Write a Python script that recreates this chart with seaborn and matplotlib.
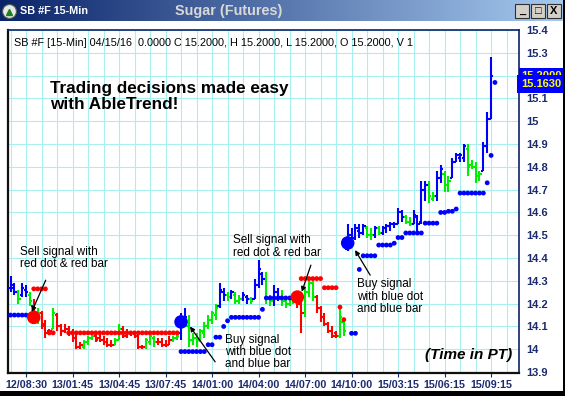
import numpy as np
import pandas as pd
import matplotlib
matplotlib.use("Agg")
import matplotlib.pyplot as plt
import matplotlib.transforms as mtransforms
from matplotlib.colors import LinearSegmentedColormap
from matplotlib.patches import Rectangle
import seaborn as sns

# ---------------- data ----------------
bar_open = [14.27,14.27,14.25,14.24,14.26,14.24,14.19,14.13,14.16,14.11,
            14.08,14.09,14.15,14.10,14.08,14.09,14.07,14.05,14.01,14.01,
            14.03,14.05,14.06,14.05,14.04,14.03,14.02,14.02,14.04,14.09,
            14.06,14.07,14.07,14.06,14.01,14.01,14.03,14.05,14.03,14.03,
            14.02,14.02,14.04,14.05,14.07,14.12,14.10,14.04,14.05,14.04,
            14.07,14.10,14.13,14.15,14.19,14.25,14.24,14.23,14.24,14.21,
            14.22,14.23,14.22,14.22,14.28,14.33,14.31,14.22,14.21,14.25,
            14.23,14.21,14.20,14.22,14.22,14.20,14.16,14.25,14.29,14.23,
            14.18,14.14,14.11,14.08,14.07,14.06,14.12,14.44,14.50,14.49,
            14.52,14.51,14.53,14.50,14.50,14.53,14.51,14.53,14.54,14.55,
            14.55,14.60,14.58,14.56,14.55,14.58,14.56,14.70,14.72,14.66,
            14.67,14.75,14.77,14.72,14.75,14.82,14.84,14.84,14.88,14.81,
            14.80,14.76,14.78,14.89,15.01]
bar_high = [14.32,14.29,14.26,14.29,14.28,14.25,14.22,14.18,14.17,14.13,
            14.09,14.18,14.16,14.11,14.11,14.10,14.09,14.07,14.03,14.04,
            14.06,14.08,14.07,14.07,14.06,14.05,14.04,14.05,14.11,14.10,
            14.09,14.08,14.08,14.07,14.02,14.05,14.07,14.06,14.05,14.05,
            14.04,14.06,14.06,14.07,14.16,14.18,14.15,14.07,14.07,14.09,
            14.12,14.15,14.17,14.20,14.29,14.27,14.25,14.26,14.25,14.24,
            14.25,14.24,14.23,14.31,14.39,14.34,14.34,14.24,14.28,14.27,
            14.26,14.22,14.23,14.24,14.24,14.21,14.27,14.31,14.31,14.24,
            14.19,14.16,14.12,14.10,14.08,14.18,14.13,14.55,14.53,14.55,
            14.55,14.55,14.54,14.53,14.54,14.54,14.54,14.55,14.56,14.56,
            14.62,14.61,14.59,14.58,14.61,14.59,14.74,14.74,14.74,14.69,
            14.78,14.81,14.78,14.76,14.84,14.86,14.86,14.90,14.90,14.83,
            14.82,14.78,14.91,15.04,15.28]
bar_low = [14.25,14.24,14.20,14.23,14.23,14.19,14.11,14.11,14.09,14.05,
           14.07,14.09,14.08,14.06,14.07,14.06,14.03,14.00,14.00,14.00,
           14.02,14.04,14.03,14.03,14.02,14.01,14.01,14.02,14.04,14.05,
           14.05,14.06,14.05,14.00,14.00,14.00,14.02,14.01,14.02,14.01,
           14.01,14.02,14.03,14.04,14.04,14.10,14.01,14.02,14.01,14.03,
           14.05,14.09,14.11,14.13,14.18,14.21,14.21,14.22,14.20,14.20,
           14.21,14.20,14.20,14.22,14.27,14.28,14.20,14.19,14.19,14.21,
           14.19,14.18,14.19,14.20,14.18,14.07,14.14,14.23,14.21,14.16,
           14.12,14.10,14.07,14.05,14.05,14.05,14.06,14.43,14.47,14.48,
           14.49,14.50,14.49,14.48,14.49,14.50,14.50,14.51,14.52,14.53,
           14.55,14.56,14.55,14.54,14.55,14.52,14.55,14.65,14.64,14.65,
           14.65,14.73,14.69,14.69,14.75,14.82,14.82,14.82,14.76,14.79,
           14.73,14.74,14.78,14.86,15.01]
bar_close = [14.28,14.25,14.22,14.27,14.25,14.21,14.14,14.16,14.10,14.07,
             14.08,14.16,14.10,14.08,14.09,14.07,14.05,14.01,14.02,14.03,
             14.05,14.06,14.04,14.04,14.03,14.02,14.02,14.04,14.09,14.06,
             14.07,14.07,14.06,14.01,14.01,14.04,14.06,14.03,14.03,14.02,
             14.02,14.04,14.05,14.06,14.12,14.14,14.04,14.05,14.04,14.08,
             14.10,14.13,14.16,14.18,14.26,14.24,14.23,14.25,14.21,14.22,
             14.24,14.22,14.21,14.28,14.35,14.31,14.22,14.21,14.25,14.23,
             14.21,14.20,14.22,14.23,14.20,14.16,14.25,14.29,14.23,14.18,
             14.14,14.11,14.08,14.06,14.06,14.14,14.08,14.50,14.49,14.53,
             14.51,14.54,14.50,14.50,14.53,14.51,14.53,14.54,14.55,14.55,
             14.60,14.58,14.56,14.55,14.59,14.55,14.70,14.72,14.67,14.67,
             14.75,14.79,14.72,14.74,14.82,14.85,14.85,14.89,14.80,14.80,
             14.76,14.77,14.89,15.01,15.20]
bar_color = list("bbgbbgrgrr" "rgrrrrrrrg" "ggrrrrrggr" "rrrrrgggrr"
                 "rrggbbgggg" "ggggbbgbgg" "bbgbbbggbb" "ggggrrgggr"
                 "rrrrrggbbb" "bbggbgbbbb" "bbggbbbbgg" "bbggbbbbgg" "ggbbb")

# trailing stop dots (runs of bars at one level)
stop_start = [1, 7, 11, 16, 45, 52, 54, 56, 57, 58, 66, 67, 76, 82, 86, 87, 89, 91, 92,
              96, 100, 101, 103, 108, 112, 114, 116, 117, 124, 125, 126]
stop_end = [6, 10, 12, 44, 51, 53, 55, 56, 57, 65, 66, 74, 81, 85, 86, 87, 90, 91, 95,
            99, 100, 102, 107, 111, 113, 115, 116, 123, 124, 125, 126]
stop_level = [14.15, 14.265, 14.072, 14.072, 13.99, 14.02, 14.053, 14.10, 14.125, 14.14,
              14.175, 14.225, 14.31, 14.27, 14.185, 14.13, 14.07, 14.35, 14.41, 14.457,
              14.465, 14.49, 14.51, 14.553, 14.60, 14.605, 14.615, 14.685, 14.73, 14.85, 15.17]
stop_color = ['b', 'r', 'r', 'r', 'b', 'b', 'b', 'b', 'b', 'b', 'b', 'b', 'r', 'r', 'r', 'r',
              'b', 'b', 'b', 'b', 'b', 'b', 'b', 'b', 'b', 'b', 'b', 'b', 'b', 'b', 'b']

# big signal dots
signal_bar = [7, 45, 75, 88]
signal_price = [14.14, 14.12, 14.229, 14.466]
signal_color = ['r', 'b', 'r', 'b']

tick_bars = [5, 17, 29, 41, 53, 65, 77, 89, 101, 113, 125]
tick_labels = ['12/08:30', '13/01:45', '13/04:45', '13/07:45', '14/01:00', '14/04:00',
               '14/07:00', '14/10:00', '15/03:15', '15/06:15', '15/09:15']
y_ticks = [13.9, 14.0, 14.1, 14.2, 14.3, 14.4, 14.5, 14.6, 14.7, 14.8, 14.9, 15.0,
           15.1, 15.2, 15.3, 15.4]
y_labels = ['13.9', '14', '14.1', '14.2', '14.3', '14.4', '14.5', '14.6', '14.7', '14.8',
            '14.9', '15', '15.1', '15.2', '15.3', '15.4']
last_prices = [15.2000, 15.1630]

header = "SB #F [15-Min] 04/15/16  0.0000 C 15.2000, H 15.2000, L 15.2000, O 15.2000, V 1"

# ---------------- style ----------------
sns.set_theme(style="white")
plt.rcParams['font.family'] = ['Liberation Sans', 'DejaVu Sans']

BLUE, GREEN, RED = '#0000ff', '#00ee00', '#ff0000'
cmap_code = {'b': BLUE, 'g': GREEN, 'r': RED}
NAVY = '#1c2a6e'
GRID = '#a8f0f0'

W, H = 565, 396
fig = plt.figure(figsize=(W / 100, H / 100), dpi=100)
fig.patch.set_facecolor('white')

def fx(p):
    return p / W

def fy(p):
    return 1 - p / H

ax = fig.add_axes([fx(8), fy(373), (519 - 8) / W, (373 - 30) / H])
ax.set_facecolor('white')

# bars
bars = pd.DataFrame({'bar': np.arange(1, len(bar_close) + 1), 'open': bar_open,
                     'high': bar_high, 'low': bar_low, 'close': bar_close,
                     'code': bar_color})
cols = [cmap_code[c] for c in bars['code']]
ax.vlines(bars['bar'], bars['low'], bars['high'], colors=cols, lw=1.5, zorder=3)
ax.hlines(bars['open'], bars['bar'] - 0.6, bars['bar'], colors=cols, lw=1.5, zorder=3)
ax.hlines(bars['close'], bars['bar'], bars['bar'] + 0.6, colors=cols, lw=1.5, zorder=3)

# stop dots
rows = []
for s, e, v, c in zip(stop_start, stop_end, stop_level, stop_color):
    if e > s:
        ax.hlines(v, s, e, colors=cmap_code[c], lw=0.9, zorder=4)
    for b in range(s, e + 1):
        rows.append({'bar': b, 'level': v, 'code': c})
stops = pd.DataFrame(rows)
sns.scatterplot(data=stops, x='bar', y='level', hue='code', palette=cmap_code,
                s=12, linewidth=0, legend=False, ax=ax, zorder=5)

# signal dots
sig = pd.DataFrame({'bar': signal_bar, 'price': signal_price, 'code': signal_color})
sns.scatterplot(data=sig, x='bar', y='price', hue='code', palette=cmap_code,
                s=95, linewidth=0, legend=False, ax=ax, zorder=7)

# axes
ax.set_xlim(0.35, 132.2)
ax.set_ylim(13.896, 15.4)
ax.set_xticks(tick_bars)
ax.set_xticklabels(tick_labels)
ax.set_xticks(np.arange(1, 133, 4), minor=True)
ax.set_yticks(y_ticks)
ax.set_yticklabels(y_labels)
ax.yaxis.tick_right()
ax.grid(False)
ax.grid(which='minor', axis='x', color=GRID, lw=0.8, zorder=0)
ax.grid(which='major', axis='y', color=GRID, lw=0.8, zorder=0)
ax.grid(which='major', axis='x', color=GRID, lw=0.8, zorder=0)
ax.set_axisbelow(True)
ax.tick_params(axis='x', which='major', length=3, width=0.8, color=NAVY, pad=2,
               labelsize=7.7, labelcolor=NAVY, direction='out', bottom=True)
ax.tick_params(axis='x', which='minor', length=0)
ax.tick_params(axis='y', length=0, pad=5.5, labelsize=8, labelcolor=NAVY)
for lab in ax.get_xticklabels() + ax.get_yticklabels():
    lab.set_fontweight('bold')
ax.set_xlabel('')
ax.set_ylabel('')
for side in ['left', 'bottom']:
    ax.spines[side].set_color('#101010')
    ax.spines[side].set_linewidth(1.6)
for side in ['top', 'right']:
    ax.spines[side].set_color('#0a246a')
    ax.spines[side].set_linewidth(1.2)

# texts
ax.text(0.0117, 0.962, header, transform=ax.transAxes, fontsize=7.8, va='center',
        ha='left', color='black')
ax.text(0.082, 0.806, 'Trading decisions made easy\nwith AbleTrend!', transform=ax.transAxes,
        fontsize=12.3, fontweight='bold', va='center', ha='left', linespacing=1.12,
        color='black')
ax.text(0.986, 0.052, '(Time in PT)', transform=ax.transAxes, fontsize=11,
        fontweight='bold', style='italic', ha='right', va='center', color='black')

ann_kw = dict(fontsize=8.5, va='center', ha='left', linespacing=1.05, color='black', zorder=8)
ax.text(3.45, 14.40, 'Sell signal with\nred dot & red bar', **ann_kw)
ax.text(58.4, 14.45, 'Sell signal with\nred dot & red bar', **ann_kw)
ax.text(56.35, 13.988, 'Buy signal\nwith blue dot\nand blue bar', **ann_kw)
ax.text(90.4, 14.231, 'Buy signal\nwith blue dot\nand blue bar', **ann_kw)

arrow_kw = dict(arrowstyle='-|>', color='black', lw=0.9, mutation_scale=7, shrinkA=0, shrinkB=0)
for tail, tip in [((10.08, 14.303), (6.47, 14.164)),
                  ((78.5, 14.369), (76.15, 14.252)),
                  ((53.8, 13.945), (47.3, 14.10)),
                  ((93.8, 14.325), (89.9, 14.435))]:
    ax.annotate('', xy=tip, xytext=tail, arrowprops=arrow_kw, zorder=8)

# last price boxes on right axis (the later one covers the earlier one, as in the source)
btrans = mtransforms.blended_transform_factory(ax.transAxes, ax.transData)
for z, (p, pad) in enumerate(zip(last_prices, [0.22, 0.32])):
    ax.text(1.004, p, f'{p:.4f}', transform=btrans, color='#ffff00', fontsize=8,
            fontweight='bold', va='center', ha='left', clip_on=False, zorder=10 + z,
            bbox=dict(boxstyle=f'square,pad={pad}', fc='#0000ff', ec='none'))

# ---------------- window chrome ----------------
tb = fig.add_axes([0, fy(21), 1, 21 / H])
grad = np.linspace(0, 1, 256)[None, :]
tb.imshow(grad, aspect='auto', extent=[0, 1, 0, 1],
          cmap=LinearSegmentedColormap.from_list('tb', ['#0a246a', '#a6caf0']))
tb.set_xlim(0, 1)
tb.set_ylim(0, 1)
tb.axis('off')
tb.plot([fx(9)], [0.5], marker='o', ms=10, mfc='#e8e8e8', mec='#506050', mew=0.8)
tb.plot([fx(9)], [0.45], marker='^', ms=5, mfc='#208020', mec='#208020')
fig.text(fx(20), fy(11), 'SB #F 15-Min', color='white', fontsize=7.8, fontweight='bold',
         va='center', ha='left')
fig.text(fx(229), fy(11), 'Sugar (Futures)', color='#d8d8d8', fontsize=10.4,
         fontweight='bold', va='center', ha='center')
for x0, g in [(515, '_'), (531, '□'), (547, 'X')]:
    fig.patches.append(Rectangle((fx(x0), fy(18)), 14 / W, 14 / H, transform=fig.transFigure,
                                 fc='#d4d0c8', ec='#303030', lw=0.8, zorder=20))
    fig.text(fx(x0 + 7), fy(11), g, color='black', fontsize=8, fontweight='bold',
             ha='center', va='center', zorder=21)

# outer frame (right and bottom)
fig.patches.append(Rectangle((fx(562.5), 0), 2.5 / W, 1, transform=fig.transFigure,
                             fc='black', ec='none', zorder=30))
fig.patches.append(Rectangle((0, 0), 1, 5 / H, transform=fig.transFigure,
                             fc='black', ec='none', zorder=30))

fig.savefig('out.png', dpi=100)
